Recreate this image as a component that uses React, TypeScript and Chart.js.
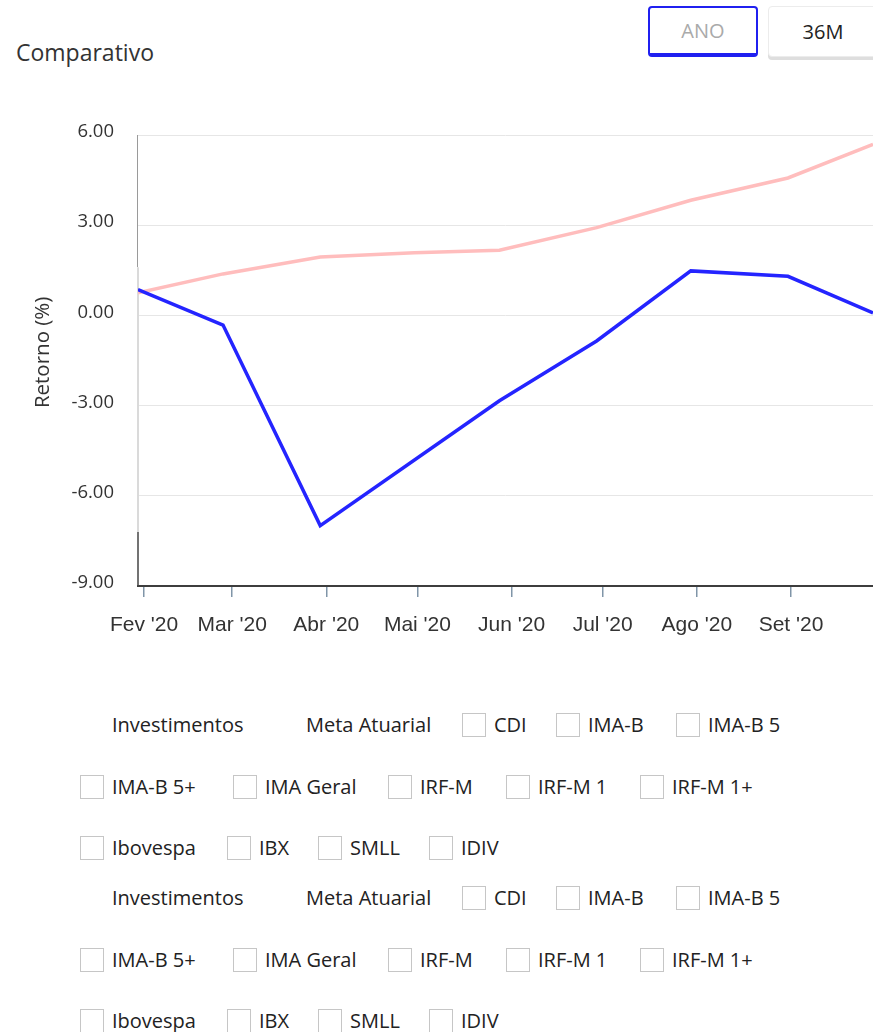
import React, { useEffect, useRef } from "react";
import { Chart, registerables } from "chart.js";

Chart.register(...registerables);

// ---- data ----
const investimentosDates = ["2020-01-30", "2020-02-27", "2020-03-30", "2020-05-28", "2020-06-29", "2020-07-30", "2020-08-31", "2020-09-28"];
const investimentosValues = [0.86, -0.32, -6.99, -2.84, -0.85, 1.48, 1.3, 0.08];

const metaDates = ["2020-01-30", "2020-02-27", "2020-03-30", "2020-04-30", "2020-05-28", "2020-06-29", "2020-07-30", "2020-08-31", "2020-09-28"];
const metaValues = [0.75, 1.38, 1.94, 2.08, 2.17, 2.92, 3.83, 4.57, 5.69];

const xRange = ["2020-01-30", "2020-09-28"];
const monthTickDates = ["2020-02-01", "2020-03-01", "2020-04-01", "2020-05-01", "2020-06-01", "2020-07-01", "2020-08-01", "2020-09-01"];
const monthTickLabels = ["Fev '20", "Mar '20", "Abr '20", "Mai '20", "Jun '20", "Jul '20", "Ago '20", "Set '20"];
const yTickValues = [-9, -6, -3, 0, 3, 6];
const yAxisTitle = "Retorno (%)";
const chartTitle = "Comparativo";

const legendRows = [
  ["Investimentos", "Meta Atuarial", "CDI", "IMA-B", "IMA-B 5"],
  ["IMA-B 5+", "IMA Geral", "IRF-M", "IRF-M 1", "IRF-M 1+"],
  ["Ibovespa", "IBX", "SMLL", "IDIV"],
];
const seriesWithoutBox = ["Investimentos", "Meta Atuarial"];
const periodButtons = ["ANO", "36M"];

// layout (not data): legend label text widths in px
const legendTextWidth: Record<string, number> = {
  Investimentos: 133, "Meta Atuarial": 127, CDI: 33, "IMA-B": 59, "IMA-B 5": 77,
  "IMA-B 5+": 92, "IMA Geral": 94, "IRF-M": 57, "IRF-M 1": 73, "IRF-M 1+": 88,
  Ibovespa: 86, IBX: 30, SMLL: 50, IDIV: 40,
};

const toDay = (s: string) => {
  const [y, m, d] = s.split("-").map(Number);
  return Date.UTC(y, m - 1, d) / 86400000;
};

const leftBorderPlugin = {
  id: "leftBorder",
  beforeDatasetsDraw(chart: any) {
    const { ctx, chartArea } = chart;
    const { left, top, bottom } = chartArea;
    const h = bottom - top;
    const y1 = top + h * 0.293;
    const y2 = top + h * 0.88;
    ctx.save();
    ctx.lineCap = "butt";
    ctx.strokeStyle = "#9a9a9a";
    ctx.lineWidth = 1;
    ctx.beginPath();
    ctx.moveTo(left - 0.5, top);
    ctx.lineTo(left - 0.5, y1);
    ctx.stroke();
    ctx.strokeStyle = "#dadada";
    ctx.lineWidth = 2;
    ctx.beginPath();
    ctx.moveTo(left, y1);
    ctx.lineTo(left, y2);
    ctx.stroke();
    ctx.strokeStyle = "#444";
    ctx.lineWidth = 1.5;
    ctx.beginPath();
    ctx.moveTo(left, y2);
    ctx.lineTo(left, bottom);
    ctx.stroke();
    ctx.restore();
  },
};

const yTitlePlugin = {
  id: "yTitle",
  afterDraw(chart: any) {
    const { ctx, chartArea } = chart;
    const x = chartArea.left - 95;
    const y = chartArea.top + (chartArea.bottom - chartArea.top) * 0.482;
    ctx.save();
    ctx.translate(x, y);
    ctx.rotate(-Math.PI / 2);
    ctx.font = '20.5px "Open Sans", sans-serif';
    ctx.fillStyle = "#333";
    ctx.textAlign = "center";
    ctx.textBaseline = "middle";
    ctx.fillText(yAxisTitle, 0, 0);
    ctx.restore();
  },
};

function ChartCanvas() {
  const ref = useRef<HTMLCanvasElement | null>(null);
  useEffect(() => {
    if (!ref.current) return;
    const tickDays = monthTickDates.map(toDay);
    const chart = new Chart(ref.current, {
      type: "line",
      data: {
        datasets: [
          {
            label: "Investimentos",
            data: investimentosDates.map((d, i) => ({ x: toDay(d), y: investimentosValues[i] })),
            borderColor: "#2424ff",
            borderWidth: 3.5,
            pointRadius: 0,
            tension: 0,
            fill: false,
          },
          {
            label: "Meta Atuarial",
            data: metaDates.map((d, i) => ({ x: toDay(d), y: metaValues[i] })),
            borderColor: "#ffbdbd",
            borderWidth: 3.5,
            pointRadius: 0,
            tension: 0,
            fill: false,
          },
        ],
      },
      options: {
        animation: false,
        responsive: false,
        devicePixelRatio: 1,
        layout: { padding: { top: 25, left: 0, right: 0, bottom: 0 } },
        plugins: { legend: { display: false }, tooltip: { enabled: false } },
        scales: {
          x: {
            type: "linear",
            min: toDay(xRange[0]),
            max: toDay(xRange[1]),
            afterBuildTicks: (s: any) => {
              s.ticks = tickDays.map((v) => ({ value: v }));
            },
            afterFit: (s: any) => {
              s.height = 60;
            },
            ticks: {
              autoSkip: false,
              maxRotation: 0,
              padding: 16,
              color: "#333",
              font: { family: '"Liberation Sans", Arial, sans-serif', size: 21 },
              callback: (_v: any, i: number) => monthTickLabels[i],
            },
            grid: { drawOnChartArea: false, drawTicks: true, tickLength: 11, color: "#8095a8", lineWidth: 1.5 },
            border: { display: true, color: "#3d3d3d", width: 2 },
          },
          y: {
            min: yTickValues[0],
            max: yTickValues[yTickValues.length - 1],
            afterBuildTicks: (s: any) => {
              s.ticks = yTickValues.map((v) => ({ value: v }));
            },
            afterFit: (s: any) => {
              s.width = 130;
            },
            ticks: {
              padding: 4,
              color: "#333",
              labelOffset: -3,
              font: { family: '"Open Sans", sans-serif', size: 18.5 },
              callback: (v: any) => Number(v).toFixed(2),
            },
            grid: { color: "#e6e6e6", lineWidth: 1, drawTicks: true, tickLength: 20, tickColor: "rgba(0,0,0,0)" },
            border: { display: false },
            title: { display: false },
          },
        },
      },
      plugins: [leftBorderPlugin, yTitlePlugin],
    } as any);
    return () => chart.destroy();
  }, []);
  return <canvas ref={ref} width={865} height={536} style={{ display: "block", width: 865, height: 536 }} />;
}

const font = '"Open Sans", sans-serif';

function LegendBlock({ top }: { top: number }) {
  return (
    <div style={{ position: "absolute", left: 80, top, fontFamily: font, fontSize: 20, color: "#222" }}>
      {legendRows.map((row, ri) => (
        <div key={ri} style={{ display: "flex", alignItems: "center", height: 24, marginTop: ri === 0 ? 0 : 37.5, whiteSpace: "nowrap" }}>
          {row.map((label) => (
            <div key={label} style={{ display: "flex", alignItems: "center", marginRight: 29 }}>
              <div
                style={{
                  width: 24,
                  height: 24,
                  boxSizing: "border-box",
                  border: "1.5px solid #c6c6c6",
                  background: "#fff",
                  marginRight: 8,
                  visibility: seriesWithoutBox.includes(label) ? "hidden" : "visible",
                }}
              />
              <span style={{ lineHeight: "24px", display: "inline-block", width: legendTextWidth[label] }}>{label}</span>
            </div>
          ))}
        </div>
      ))}
    </div>
  );
}

export default function App() {
  return (
    <div style={{ position: "fixed", left: 0, top: 0, width: 873, height: 1032, overflow: "hidden", background: "#fff" }}>
      <div style={{ position: "absolute", left: 16, top: 36, fontFamily: font, fontSize: 23, lineHeight: "32px", color: "#333", whiteSpace: "nowrap" }}>
        {chartTitle}
      </div>
      {periodButtons.map((b, i) => (
        <div
          key={b}
          style={{
            position: "absolute",
            left: 648 + i * 120,
            top: 6,
            width: 110,
            height: 51,
            boxSizing: "border-box",
            border: i === 0 ? "2px solid #2020f0" : "1px solid #ececec",
            borderBottom: i === 0 ? "4px solid #2020f0" : "1px solid #ececec",
            borderRadius: 4,
            boxShadow: i === 0 ? "none" : "0 3px 0 #dedede",
            background: "#fff",
            display: "flex",
            alignItems: "center",
            justifyContent: "center",
            fontFamily: font,
            fontSize: 20,
            color: i === 0 ? "#aaa" : "#222",
          }}
        >
          {b}
        </div>
      ))}
      <div style={{ position: "absolute", left: 8, top: 110 }}>
        <ChartCanvas />
      </div>
      <LegendBlock top={713} />
      <LegendBlock top={886} />
    </div>
  );
}
